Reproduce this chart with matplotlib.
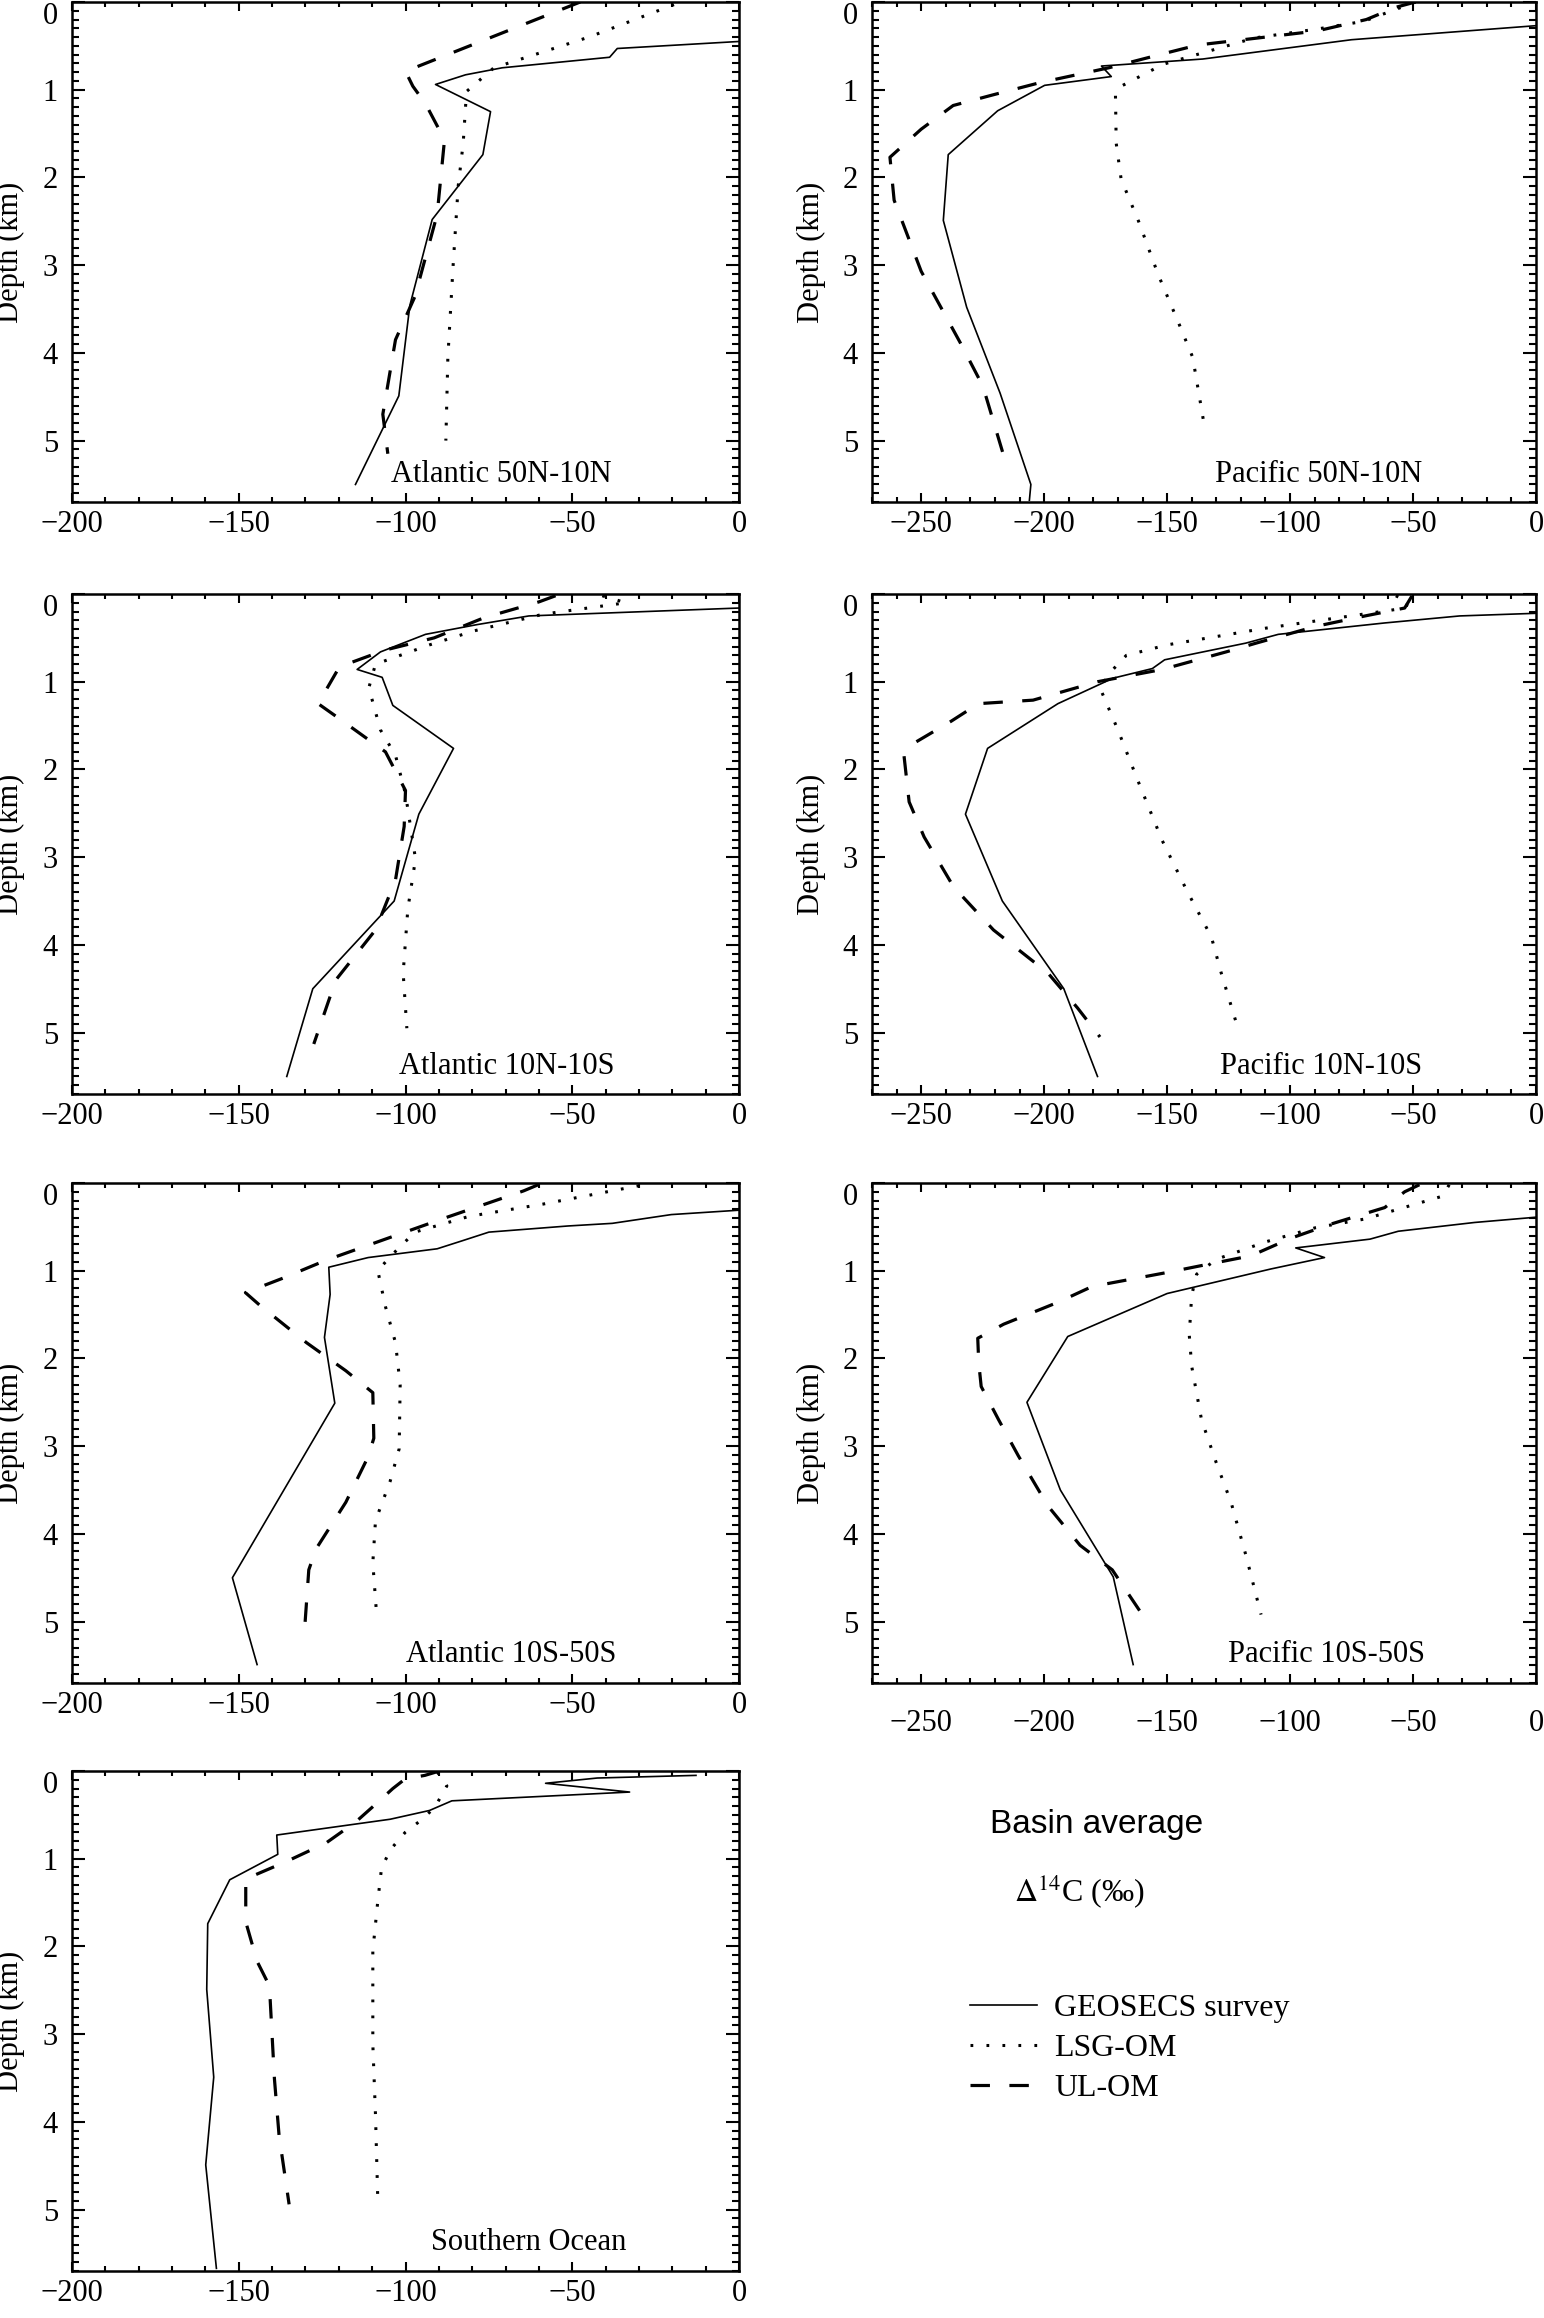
import matplotlib
matplotlib.use("Agg")
import matplotlib.pyplot as plt
from matplotlib.ticker import MultipleLocator

plt.rcParams['font.family'] = ['Liberation Serif', 'DejaVu Serif']
plt.rcParams['mathtext.fontset'] = 'stix'
plt.rcParams['lines.scale_dashes'] = False

# --- data: delta14C (permil) and depth (km) ---

# Atlantic 50N-10N
atl_n_geo_c = [0, -36.5, -38.8, -71, -82, -91, -74.5, -76.8, -92, -98.7, -102, -115]
atl_n_geo_z = [0.45, 0.53, 0.63, 0.75, 0.83, 0.94, 1.25, 1.74, 2.48, 3.46, 4.49, 5.5]
atl_n_lsg_c = [-19.5, -45, -73.5, -81.7, -82.7, -84.2, -85.7, -87.3, -87.9]
atl_n_lsg_z = [0.03, 0.4, 0.75, 1.02, 1.61, 2.1, 2.99, 4.05, 5.0]
atl_n_ul_c = [-47.6, -100, -97.8, -94, -88.3, -90.5, -97.2, -103, -106.8, -105.3]
atl_n_ul_z = [0.0, 0.79, 0.96, 1.16, 1.57, 2.42, 3.36, 3.85, 4.7, 5.15]

# Pacific 50N-10N
pac_n_geo_c = [0, -75, -135.5, -176.7, -172.7, -199.8, -218.9, -239, -241, -231.5, -217.9, -205.4, -206]
pac_n_geo_z = [0.27, 0.43, 0.65, 0.73, 0.85, 0.95, 1.24, 1.74, 2.49, 3.48, 4.46, 5.5, 5.68]
pac_n_lsg_c = [-49, -70, -89.4, -114.5, -151.6, -168.7, -171, -170.7, -168.7, -161.6, -153.6, -145.6, -139.6, -134.5]
pac_n_lsg_z = [0.0, 0.22, 0.31, 0.41, 0.71, 0.96, 1.06, 1.61, 2.02, 2.5, 3.11, 3.64, 4.05, 4.89]
pac_n_ul_c = [-49, -57, -69, -89, -113, -137.5, -151.6, -173.7, -201.8, -221, -237, -250, -262.7,
              -261, -250, -234, -224.9, -216.9]
pac_n_ul_z = [0.0, 0.06, 0.2, 0.33, 0.41, 0.49, 0.59, 0.75, 0.92, 1.06, 1.18, 1.45, 1.77,
              2.26, 3.07, 3.89, 4.38, 5.13]

# Atlantic 10N-10S
atl_e_geo_c = [0, -63, -78.7, -94, -107.5, -114.5, -107, -103.8, -85.6, -96, -103.4, -127.8, -135.6]
atl_e_geo_z = [0.16, 0.25, 0.35, 0.46, 0.66, 0.86, 0.95, 1.27, 1.76, 2.51, 3.5, 4.5, 5.5]
atl_e_lsg_c = [-41, -33.9, -58.7, -79.4, -92.8, -109, -111, -107.5, -103, -100, -97, -99.3, -100.7, -99.6]
atl_e_lsg_z = [0.02, 0.1, 0.23, 0.42, 0.58, 0.8, 1.07, 1.55, 1.84, 2.28, 3.02, 3.59, 4.32, 4.95]
atl_e_ul_c = [-55, -60, -76.4, -91.4, -106.2, -119.8, -126.2, -121, -106, -100, -100.4, -103, -109,
              -120.9, -127.5]
atl_e_ul_z = [0.02, 0.09, 0.27, 0.5, 0.64, 0.83, 1.25, 1.39, 1.8, 2.24, 2.65, 3.26, 3.83, 4.4, 5.13]

# Pacific 10N-10S
pac_e_geo_c = [0, -31, -61.5, -104.8, -118, -151, -156, -172, -194.4, -223, -232, -217, -192, -178.3]
pac_e_geo_z = [0.22, 0.25, 0.33, 0.46, 0.56, 0.75, 0.85, 0.96, 1.25, 1.76, 2.51, 3.5, 4.5, 5.5]
pac_e_lsg_c = [-57, -52, -53, -110, -150, -166.6, -172, -177.3, -170, -162, -152, -142, -132, -128, -121]
pac_e_lsg_z = [0.02, 0.09, 0.16, 0.39, 0.58, 0.7, 0.86, 1.07, 1.55, 2.12, 2.81, 3.38, 3.91, 4.32, 4.97]
pac_e_ul_c = [-50.4, -53.4, -69.5, -89.7, -113.8, -126, -152, -178.3, -204.5, -226.7, -237.8, -252.9,
              -257, -254.9, -248.8, -236.8, -220.6, -198.5, -186.4, -177.3]
pac_e_ul_z = [0.02, 0.16, 0.25, 0.37, 0.56, 0.66, 0.86, 1.0, 1.21, 1.25, 1.45, 1.7,
              1.84, 2.37, 2.77, 3.34, 3.83, 4.32, 4.72, 5.05]

# Atlantic 10S-50S
atl_s_geo_c = [0, -20.3, -38, -51.3, -75, -83.1, -90.5, -111.2, -123, -122.6, -124.3, -121.2, -151.9, -144.5]
atl_s_geo_z = [0.31, 0.36, 0.46, 0.49, 0.56, 0.66, 0.75, 0.85, 0.96, 1.27, 1.76, 2.51, 4.5, 5.49]
atl_s_lsg_c = [-29.9, -58.7, -80.9, -97.2, -104.6, -108.3, -106, -103, -101.6, -101.9, -104.6, -109, -109.8, -108.7]
atl_s_lsg_z = [0.03, 0.24, 0.38, 0.56, 0.84, 1.0, 1.41, 1.82, 2.3, 3.03, 3.4, 3.85, 4.33, 4.9]
atl_s_ul_c = [-60.2, -64.6, -88.3, -110.5, -123.8, -137.1, -148, -143.8, -129.7, -117.9, -109.8, -109.5,
              -111.2, -117.9, -126.8, -129, -130.2]
atl_s_ul_z = [0.02, 0.09, 0.4, 0.7, 0.88, 1.09, 1.25, 1.39, 1.82, 2.14, 2.39, 2.91,
              3.12, 3.64, 4.17, 4.41, 5.06]

# Pacific 10S-50S
pac_s_geo_c = [0, -25, -56, -67.5, -97.7, -86, -107.8, -150, -190.4, -207, -193.4, -171.9, -163.8]
pac_s_geo_z = [0.39, 0.45, 0.55, 0.64, 0.74, 0.85, 0.98, 1.26, 1.75, 2.5, 3.5, 4.49, 5.49]
pac_s_lsg_c = [-35.3, -38, -69.5, -89.7, -109.8, -130, -138, -140, -141, -140, -136, -130, -124, -117.9, -111.8]
pac_s_lsg_z = [0.02, 0.15, 0.41, 0.51, 0.67, 0.87, 1.04, 1.28, 1.73, 2.09, 2.7, 3.19, 3.64, 4.25, 4.92]
pac_s_ul_c = [-47.4, -53.4, -61.5, -83.6, -99.7, -115.9, -134, -150, -180.5, -194.4, -216.5, -227,
              -226.6, -225.6, -218.5, -210.5, -198.5, -185.4, -172.3, -158.2]
pac_s_ul_z = [0.02, 0.1, 0.28, 0.47, 0.63, 0.83, 0.93, 1.02, 1.18, 1.36, 1.61, 1.77,
              2.05, 2.32, 2.7, 3.11, 3.68, 4.13, 4.41, 5.0]

# Southern Ocean
so_geo_c = [-12.9, -42.5, -58, -32.8, -86.1, -92.8, -104.6, -138.6, -138.3, -152.7, -159.3, -159.6,
            -157.5, -159.9, -156.7]
so_geo_z = [0.05, 0.08, 0.14, 0.24, 0.34, 0.45, 0.55, 0.73, 0.95, 1.24, 1.74, 2.49,
            3.49, 4.49, 5.67]
so_lsg_c = [-90.5, -87.6, -91.3, -96, -100.1, -104.6, -107.2, -108.3, -109.8, -109.8, -109, -108.3]
so_lsg_z = [0.01, 0.17, 0.42, 0.58, 0.7, 0.9, 1.11, 1.48, 2.05, 3.11, 3.92, 4.9]
so_ul_c = [-89.8, -94.2, -100.1, -103.8, -109, -114.9, -123.8, -135.6, -147.9, -147.9, -144.5, -140.8,
           -139.3, -137.9, -134.9]
so_ul_z = [0.0, 0.05, 0.09, 0.2, 0.38, 0.58, 0.82, 1.03, 1.23, 1.72, 2.17, 2.45,
           3.51, 4.16, 4.94]

titles = ["Atlantic 50N-10N", "Pacific 50N-10N", "Atlantic 10N-10S", "Pacific 10N-10S",
          "Atlantic 10S-50S", "Pacific 10S-50S", "Southern Ocean"]
series_names = ["GEOSECS survey", "LSG-OM", "UL-OM"]

panels = [
    (atl_n_geo_c, atl_n_geo_z, atl_n_lsg_c, atl_n_lsg_z, atl_n_ul_c, atl_n_ul_z),
    (pac_n_geo_c, pac_n_geo_z, pac_n_lsg_c, pac_n_lsg_z, pac_n_ul_c, pac_n_ul_z),
    (atl_e_geo_c, atl_e_geo_z, atl_e_lsg_c, atl_e_lsg_z, atl_e_ul_c, atl_e_ul_z),
    (pac_e_geo_c, pac_e_geo_z, pac_e_lsg_c, pac_e_lsg_z, pac_e_ul_c, pac_e_ul_z),
    (atl_s_geo_c, atl_s_geo_z, atl_s_lsg_c, atl_s_lsg_z, atl_s_ul_c, atl_s_ul_z),
    (pac_s_geo_c, pac_s_geo_z, pac_s_lsg_c, pac_s_lsg_z, pac_s_ul_c, pac_s_ul_z),
    (so_geo_c, so_geo_z, so_lsg_c, so_lsg_z, so_ul_c, so_ul_z),
]

# layout (pixels of the 1544x2318 picture)
W, H = 1544, 2318
col_left = [72, 872]
col_width = [667, 664]
row_bottom = [502, 1094, 1683, 2271]
ax_h = 500
title_x = [0.644, 0.672, 0.652, 0.677, 0.659, 0.684, 0.684]

fig = plt.figure(figsize=(W / 100, H / 100), dpi=100)

styles = [
    dict(color='black', lw=1.2, ls='-'),
    dict(color='black', lw=2.2, ls=(0, (2, 9.5)), dash_capstyle='butt'),
    dict(color='black', lw=2.3, ls=(0, (14, 14)), dash_capstyle='butt'),
]

for i, (title, data) in enumerate(zip(titles, panels)):
    col = i % 2
    row = i // 2
    rect = [col_left[col] / W, 1 - row_bottom[row] / H, col_width[col] / W, ax_h / H]
    ax = fig.add_axes(rect)
    pacific = title.startswith("Pacific")

    handles = []
    for k in range(3):
        h, = ax.plot(data[2 * k], data[2 * k + 1], label=series_names[k], **styles[k])
        handles.append(h)

    ax.set_xlim(-270 if pacific else -200, 0)
    ax.set_ylim(5.7, 0)
    ax.xaxis.set_major_locator(MultipleLocator(50))
    ax.xaxis.set_minor_locator(MultipleLocator(10))
    ax.set_yticks([0, 1, 2, 3, 4, 5])
    ax.yaxis.set_minor_locator(MultipleLocator(0.1))
    ax.tick_params(which='both', direction='in', top=True, right=True, width=1.5,
                   labelsize=22)
    ax.tick_params(axis='x', which='major', length=6.5, pad=18.5 if i == 5 else 5.5)
    ax.tick_params(axis='x', which='minor', length=3.5)
    ax.tick_params(axis='y', which='major', length=9.5, pad=10)
    ax.tick_params(axis='y', which='minor', length=5)
    for sp in ax.spines.values():
        sp.set_linewidth(1.8)
    ax.yaxis.get_major_ticks()[0].label1.set_verticalalignment('top')

    ax.set_ylabel("Depth (km)", fontsize=22)
    ax.yaxis.set_label_coords(-0.07, 0.5)
    ax.text(title_x[i], 0.056, title, transform=ax.transAxes, fontsize=22,
            ha='center', va='center')

fig.text(0.710, 0.2127, "Basin average", fontsize=24, family=['Liberation Sans', 'DejaVu Sans'],
         ha='center', va='center')
fig.text(0.699, 0.1842, r"$\Delta^{14}$C (‰)", fontsize=23, ha='center', va='center')

fig.legend(handles=handles, loc='upper left', bbox_to_anchor=(0.628, 0.140),
           frameon=False, fontsize=23, handlelength=2.1, handletextpad=0.55,
           labelspacing=0.34, borderpad=0, borderaxespad=0)

fig.savefig("out.png", dpi=100)
